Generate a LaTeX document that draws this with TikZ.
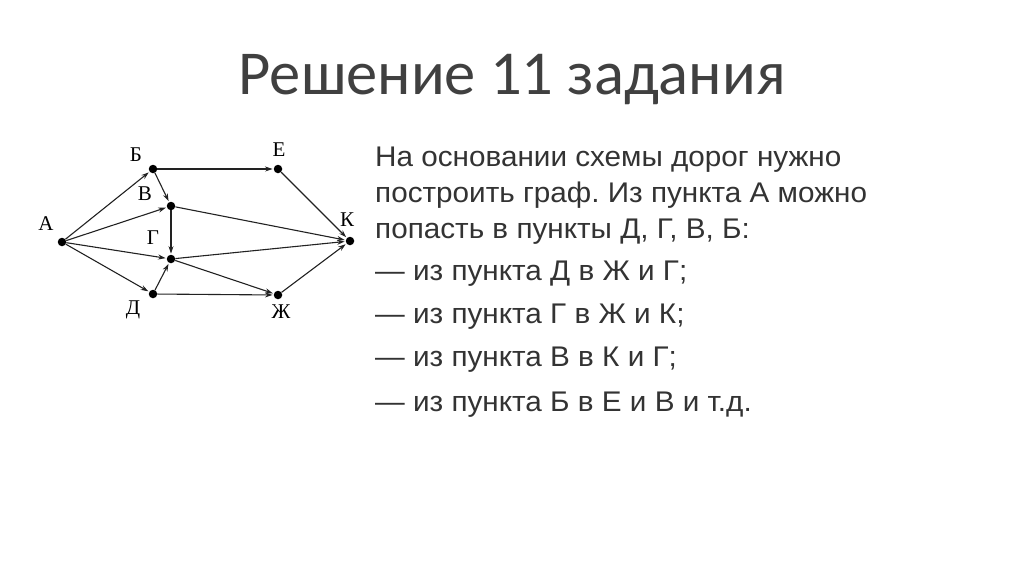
\documentclass[tikz,border=0pt]{standalone}
\usepackage{fontspec}
\setmainfont{Liberation Sans}[FakeStretch=1.045]
\newfontfamily\titlefont{Carlito}
\newfontfamily\graphfont{Liberation Serif}
\usetikzlibrary{arrows.meta}
\definecolor{titlegray}{HTML}{404040}
\definecolor{bodygray}{HTML}{333333}
\definecolor{edgegray}{HTML}{222222}
\frenchspacing
\begin{document}
\begin{tikzpicture}[x=1pt,y=-1pt,
  vtx/.style={circle,fill=black,inner sep=0pt,minimum size=8.5pt},
  lbl/.style={font=\graphfont\fontsize{21}{21}\selectfont,inner sep=0pt,anchor=base},
  edge/.style={draw=edgegray,line width=1.1pt,-{Stealth[length=7.5pt,width=5pt]},shorten >=1pt},
  body/.style={font=\fontsize{28.4}{28.4}\selectfont,text=bodygray,anchor=base west,inner sep=0pt}]
\useasboundingbox (0,0) rectangle (1024,574);
% title
\node[font=\titlefont\fontsize{62.5}{62.5}\selectfont,text=titlegray,anchor=base,inner sep=0pt] (title) at (512,94) {Решение 11 задания};
% vertices
\node[vtx] (A) at (62,242) {};
\node[vtx] (B) at (153,169) {};
\node[vtx] (E) at (278,169) {};
\node[vtx] (V) at (171,206) {};
\node[vtx] (G) at (171,259) {};
\node[vtx] (K) at (350,241) {};
\node[vtx] (D) at (153,294) {};
\node[vtx] (Zh) at (278,295) {};
% labels
\node[lbl] (lA) at (46,230) {А};
\node[lbl] (lB) at (136,161) {Б};
\node[lbl] (lE) at (279,156) {Е};
\node[lbl] (lV) at (145,200) {В};
\node[lbl] (lG) at (153,244) {Г};
\node[lbl] (lK) at (347,226) {К};
\node[lbl] (lD) at (133,314) {Д};
\node[lbl] (lZh) at (281,318) {Ж};
% edges
\draw[edge] (A) -- (B);
\draw[edge] (A) -- (V);
\draw[edge] (A) -- (G);
\draw[edge] (A) -- (D);
\draw[edge] (B) -- (E);
\draw[edge] (B) -- (V);
\draw[edge] (V) -- (G);
\draw[edge] (V) -- (K);
\draw[edge] (E) -- (K);
\draw[edge] (G) -- (K);
\draw[edge] (G) -- (Zh);
\draw[edge] (D) -- (G);
\draw[edge] (D) -- (Zh);
\draw[edge] (Zh) -- (K);
% text
\node[body] (t1) at (375,166) {На основании схемы дорог нужно};
\node[body] (t2) at (375,202) {построить граф. Из пункта А можно};
\node[body] (t3) at (375,238) {попасть в пункты Д, Г, В, Б:};
\node[body] (t4) at (375,280) {— из пункта Д в Ж и Г;};
\node[body] (t5) at (375,323) {— из пункта Г в Ж и К;};
\node[body] (t6) at (375,366) {— из пункта В в К и Г;};
\node[body] (t7) at (375,411) {— из пункта Б в Е и В и т.д.};
\end{tikzpicture}
\end{document}
